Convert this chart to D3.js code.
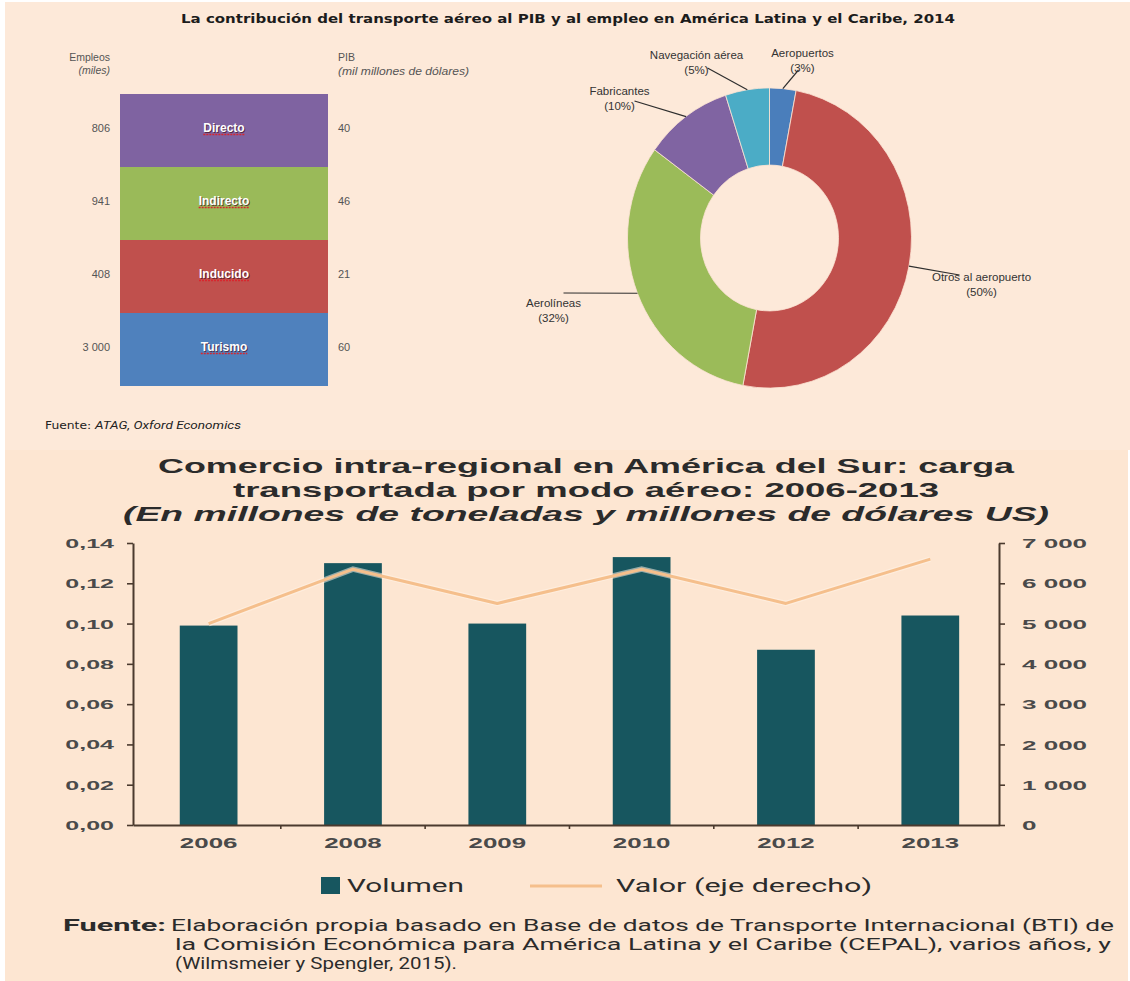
<!DOCTYPE html>
<html>
<head>
<meta charset="utf-8">
<script src="https://cdn.jsdelivr.net/npm/d3@7"></script>
<style>
  html, body { margin: 0; padding: 0; background: #ffffff; }
  svg { display: block; }
</style>
</head>
<body>
<svg id="chart" width="1130" height="981"></svg>
<script>
// ---- Panel A: contribution by impact type (stacked column) ----
const impactTypes = ["Directo", "Indirecto", "Inducido", "Turismo"];
const empleosMiles = [806, 941, 408, 3000];
const pibMilMillones = [40, 46, 21, 60];

// ---- Panel B: share of GDP by sector (donut) ----
const sectors = ["Aeropuertos", "Otros al aeropuerto", "Aerolíneas", "Fabricantes", "Navegación aérea"];
const sectorShares = [3, 50, 32, 10, 5];

// ---- Panel C: intra-regional air cargo ----
const years = ["2006", "2008", "2009", "2010", "2012", "2013"];
const volumen = [0.099, 0.130, 0.100, 0.133, 0.087, 0.104];
const valor = [5000, 6350, 5500, 6350, 5500, 6600];
const volumenTicks = [0, 0.02, 0.04, 0.06, 0.08, 0.10, 0.12, 0.14];
const valorTicks = [0, 1000, 2000, 3000, 4000, 5000, 6000, 7000];

const svg = d3.select("#chart");
const COND = "Roboto,'Liberation Sans',Arial,sans-serif";
const SANS = "'Liberation Sans',Arial,Helvetica,sans-serif";

// stretch a text node to a given width
function fitWidth(sel, w) {
  sel.attr("textLength", w).attr("lengthAdjust", "spacingAndGlyphs");
}
function stretch(sel, k) {
  sel.each(function () {
    const w = this.getComputedTextLength();
    d3.select(this).attr("textLength", w * k).attr("lengthAdjust", "spacingAndGlyphs");
  });
}
const spaced = d => d3.format(",")(d).replace(/,/g, " ");

// backgrounds
svg.append("rect").attr("x", 5).attr("y", 2).attr("width", 1125).attr("height", 448).attr("fill", "#fde9d9");
svg.append("rect").attr("x", 5).attr("y", 450).attr("width", 1123).attr("height", 531).attr("fill", "#fde6d2");

// ================= Top title =================
svg.append("text")
  .attr("x", 568).attr("y", 23)
  .attr("text-anchor", "middle")
  .attr("font-family", "'DejaVu Sans',Verdana,sans-serif")
  .attr("font-weight", "bold").attr("font-size", 13)
  .attr("fill", "#1c1c1c")
  .text("La contribución del transporte aéreo al PIB y al empleo en América Latina y el Caribe, 2014")
  .call(fitWidth, 774);

// ================= Panel A =================
const gA = svg.append("g");
const segY = d3.scaleBand().domain(impactTypes).range([94, 386]).padding(0);
const segColor = d3.scaleOrdinal().domain(impactTypes).range(["#7f63a1", "#9aba59", "#c0504d", "#4f81bd"]);
const colX0 = 120, colX1 = 328;

gA.selectAll("rect.seg").data(impactTypes).join("rect")
  .attr("class", "seg")
  .attr("x", colX0).attr("width", colX1 - colX0)
  .attr("y", d => segY(d)).attr("height", segY.bandwidth())
  .attr("fill", d => segColor(d));

const segLabels = gA.selectAll("text.seglab").data(impactTypes).join("text")
  .attr("class", "seglab")
  .attr("x", (colX0 + colX1) / 2)
  .attr("y", d => segY(d) + segY.bandwidth() / 2 + 1)
  .attr("text-anchor", "middle")
  .attr("font-family", SANS).attr("font-weight", "bold").attr("font-size", 12)
  .attr("fill", "#ffffff")
  .style("text-shadow", "1px 1px 0 rgba(70,20,40,0.75)")
  .text(d => d);
// red wavy proofing marks under the segment words
segLabels.each(function (d) {
  const w = this.getComputedTextLength();
  gA.append("line")
    .attr("x1", (colX0 + colX1) / 2 - w / 2).attr("x2", (colX0 + colX1) / 2 + w / 2)
    .attr("y1", segY(d) + segY.bandwidth() / 2 + 4).attr("y2", segY(d) + segY.bandwidth() / 2 + 4)
    .attr("stroke", "#d8262e").attr("stroke-width", 1.3).attr("stroke-dasharray", "2,1");
});

gA.selectAll("text.emp").data(impactTypes).join("text")
  .attr("class", "emp")
  .attr("x", 110).attr("y", d => segY(d) + segY.bandwidth() / 2 + 1)
  .attr("text-anchor", "end")
  .attr("font-family", SANS).attr("font-size", 11)
  .attr("fill", "#555")
  .text((d, i) => spaced(empleosMiles[i]));

gA.selectAll("text.pib").data(impactTypes).join("text")
  .attr("class", "pib")
  .attr("x", 338).attr("y", d => segY(d) + segY.bandwidth() / 2 + 1)
  .attr("font-family", SANS).attr("font-size", 11)
  .attr("fill", "#555")
  .text((d, i) => pibMilMillones[i]);

gA.append("text").attr("x", 110).attr("y", 61).attr("text-anchor", "end")
  .attr("font-family", SANS).attr("font-size", 10.5).attr("fill", "#555").text("Empleos");
gA.append("text").attr("x", 110).attr("y", 74).attr("text-anchor", "end")
  .attr("font-family", SANS).attr("font-size", 10.5).attr("font-style", "italic").attr("fill", "#555").text("(miles)");
gA.append("text").attr("x", 338).attr("y", 61)
  .attr("font-family", SANS).attr("font-size", 10.5).attr("fill", "#555").text("PIB");
gA.append("text").attr("x", 338).attr("y", 75)
  .attr("font-family", SANS).attr("font-size", 10.5).attr("font-style", "italic").attr("fill", "#555")
  .text("(mil millones de dólares)").call(fitWidth, 131);

const srcA = svg.append("text").attr("x", 45).attr("y", 429)
  .attr("font-family", "'DejaVu Sans',sans-serif").attr("font-size", 10).attr("fill", "#222");
srcA.append("tspan").text("Fuente: ");
srcA.append("tspan").attr("font-family", COND).attr("font-style", "italic").attr("font-size", 11)
  .text("ATAG, Oxford Economics");
fitWidth(srcA, 196);

// ================= Panel B (donut) =================
const cx = 769.5, cy = 238, ry = 1.057;
const rOuter = 142, rInner = 69;
const pie = d3.pie().sort(null).value(d => d.v);
const arcs = pie(sectors.map((s, i) => ({ name: s, v: sectorShares[i] })));
const arcGen = d3.arc().innerRadius(rInner).outerRadius(rOuter);
const sectorColor = d3.scaleOrdinal().domain(sectors)
  .range(["#4a7ebb", "#c0504d", "#9bbb59", "#8064a2", "#4bacc6"]);

const gB = svg.append("g").attr("transform", `translate(${cx},${cy}) scale(1,${ry})`);
gB.selectAll("path").data(arcs).join("path")
  .attr("d", arcGen)
  .attr("fill", d => sectorColor(d.data.name))
  .attr("stroke", "#fbe3d3").attr("stroke-width", 0.8);

// label placement relative to the donut centre (text anchor + leader end)
const labelLayout = {
  "Aeropuertos":         { tx: 33,   ty: -185, lx: 29,   ly: -168 },
  "Navegación aérea":    { tx: -73,  ty: -183, lx: -62,  ly: -170 },
  "Fabricantes":         { tx: -150, ty: -147, lx: -135, ly: -137 },
  "Aerolíneas":          { tx: -216, ty: 65,   lx: -206, ly: 55 },
  "Otros al aeropuerto": { tx: 212,  ty: 39,   lx: 190,  ly: 37 }
};
const gBL = svg.append("g").attr("transform", `translate(${cx},${cy})`);
arcs.forEach(a => {
  const L = labelLayout[a.data.name];
  const mid = (a.startAngle + a.endAngle) / 2;
  const ex = rOuter * Math.sin(mid), ey = -rOuter * Math.cos(mid) * ry;
  gBL.append("line")
    .attr("x1", ex).attr("y1", ey).attr("x2", L.lx).attr("y2", L.ly)
    .attr("stroke", "#2e2e2e").attr("stroke-width", 1.2);
  const t = gBL.append("text")
    .attr("text-anchor", "middle")
    .attr("font-family", SANS).attr("font-size", 11.5).attr("fill", "#333");
  t.append("tspan").attr("x", L.tx).attr("y", L.ty + 4).text(a.data.name);
  t.append("tspan").attr("x", L.tx).attr("y", L.ty + 19).text(`(${a.data.v}%)`);
});

// ================= Panel C (bars + line) =================
const plot = { left: 133, right: 999, top: 543, bottom: 825 };
const x = d3.scaleBand().domain(years).range([plot.left, plot.right])
  .paddingInner(0.6).paddingOuter(0.3).align(0.54);
const yL = d3.scaleLinear().domain([0, 0.14]).range([plot.bottom, plot.top]);
const yR = d3.scaleLinear().domain([0, 7000]).range([plot.bottom, plot.top]);
const AXIS = "#4b3a2e", BAR = "#17565f", LINE = "#f5bf8c", LABEL = "#4a4a4a";

// title
const titleC = svg.append("g").attr("font-family", SANS)
  .attr("font-weight", "bold").attr("fill", "#2b2b2b").attr("text-anchor", "middle");
titleC.append("text").attr("x", 586).attr("y", 473).attr("font-size", 20.5)
  .text("Comercio intra-regional en América del Sur: carga").call(fitWidth, 856);
titleC.append("text").attr("x", 586).attr("y", 497).attr("font-size", 20.5)
  .text("transportada por modo aéreo: 2006-2013").call(fitWidth, 706);
titleC.append("text").attr("x", 586).attr("y", 521).attr("font-size", 20.5).attr("font-style", "italic")
  .text("(En millones de toneladas y millones de dólares US)").call(fitWidth, 926);

const gC = svg.append("g");
gC.selectAll("rect.bar").data(years).join("rect")
  .attr("class", "bar")
  .attr("x", d => x(d)).attr("width", x.bandwidth())
  .attr("y", (d, i) => yL(volumen[i]))
  .attr("height", (d, i) => yL(0) - yL(volumen[i]))
  .attr("fill", BAR);

const lineGen = d3.line().x(d => x(d.year) + x.bandwidth() / 2).y(d => yR(d.v));
const lineData = years.map((y, i) => ({ year: y, v: valor[i] }));
gC.append("path").datum(lineData).attr("d", lineGen)
  .attr("fill", "none").attr("stroke", "#fff3e6").attr("stroke-width", 5.5).attr("stroke-opacity", 0.55);
gC.append("path").datum(lineData).attr("d", lineGen)
  .attr("fill", "none").attr("stroke", LINE).attr("stroke-width", 3).attr("stroke-linejoin", "round");

// axes
const axL = gC.append("g").attr("transform", `translate(${plot.left},0)`)
  .call(d3.axisLeft(yL).tickValues(volumenTicks).tickSize(6).tickSizeOuter(0).tickPadding(13)
    .tickFormat(d => d3.format(".2f")(d).replace(".", ",")));
const axR = gC.append("g").attr("transform", `translate(${plot.right},0)`)
  .call(d3.axisRight(yR).tickValues(valorTicks).tickSize(6).tickSizeOuter(0).tickPadding(17)
    .tickFormat(spaced));
const axB = gC.append("g").attr("transform", `translate(0,${plot.bottom})`)
  .call(d3.axisBottom(x).tickSize(0).tickSizeOuter(0).tickPadding(10));

[axL, axR, axB].forEach(a => {
  a.selectAll("path.domain").attr("stroke", AXIS).attr("stroke-width", 2);
  a.selectAll(".tick line").attr("stroke", AXIS).attr("stroke-width", 1.6);
  a.selectAll("text").attr("font-family", SANS).attr("font-weight", "bold").attr("fill", LABEL);
});
axL.selectAll("text").attr("font-size", 12.5).attr("dy", "0.36em").call(stretch, 2.0);
axR.selectAll("text").attr("font-size", 13).attr("dy", "0.36em").call(stretch, 2.0);
axB.selectAll("text").attr("font-size", 14).attr("dy", "0.9em").call(stretch, 1.85);

// category boundary ticks on the x-axis
const step = x.step();
gC.selectAll("line.bt").data(years.slice(1)).join("line")
  .attr("class", "bt")
  .attr("x1", d => x(d) - step * x.paddingInner() / 2).attr("x2", d => x(d) - step * x.paddingInner() / 2)
  .attr("y1", plot.bottom).attr("y2", plot.bottom + 4)
  .attr("stroke", AXIS).attr("stroke-width", 1.6);

// legend
const gLeg = svg.append("g").attr("font-family", COND).attr("font-size", 19).attr("fill", "#2b2b2b");
gLeg.append("rect").attr("x", 321).attr("y", 877).attr("width", 19).attr("height", 17).attr("fill", BAR);
gLeg.append("text").attr("x", 347).attr("y", 892).text("Volumen").call(fitWidth, 117);
gLeg.append("line").attr("x1", 530).attr("x2", 602).attr("y1", 886).attr("y2", 886)
  .attr("stroke", LINE).attr("stroke-width", 3);
gLeg.append("text").attr("x", 616).attr("y", 892).text("Valor (eje derecho)").call(fitWidth, 256);

// source note
const gSrc = svg.append("g").attr("font-family", COND).attr("font-size", 17).attr("fill", "#2b2b2b");
gSrc.append("text").attr("x", 63).attr("y", 931).attr("font-weight", "bold").text("Fuente:").call(fitWidth, 103);
gSrc.append("text").attr("x", 171).attr("y", 931)
  .text("Elaboración propia basado en Base de datos de Transporte Internacional (BTI) de").call(fitWidth, 943);
gSrc.append("text").attr("x", 175).attr("y", 950)
  .text("la Comisión Económica para América Latina y el Caribe (CEPAL), varios años, y").call(fitWidth, 936);
gSrc.append("text").attr("x", 175).attr("y", 969)
  .text("(Wilmsmeier y Spengler, 2015).").call(fitWidth, 282);
</script>
</body>
</html>
